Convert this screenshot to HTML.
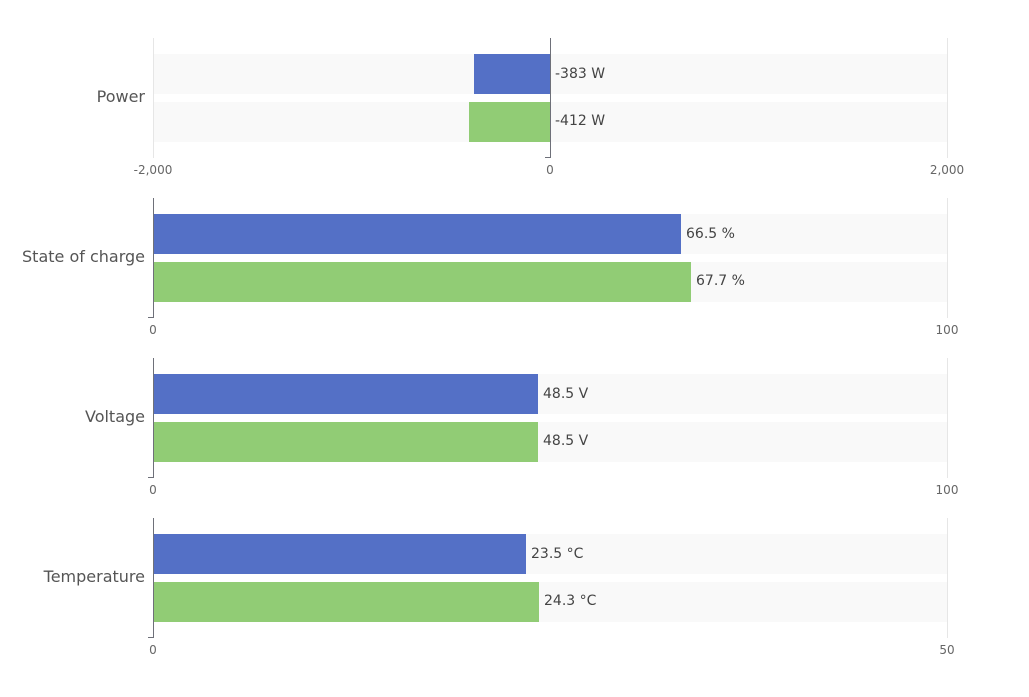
<!DOCTYPE html>
<html><head><style>body{margin:0;background:#fff}svg{display:block;font-family:"DejaVu Sans","Liberation Sans",sans-serif}</style></head><body>
<svg width="1029" height="697" xmlns="http://www.w3.org/2000/svg">
<g font-size="14" fill="#444">
<!-- Panel 1 -->
<rect x="153" y="54" width="794" height="40" fill="#f9f9f9"/>
<rect x="153" y="102" width="794" height="40" fill="#f9f9f9"/>
<line x1="153.5" y1="38" x2="153.5" y2="158" stroke="#e6e6e6"/>
<line x1="947.5" y1="38" x2="947.5" y2="158" stroke="#e6e6e6"/>
<rect x="474" y="54" width="76" height="40" fill="#5470c6"/>
<rect x="469" y="102" width="81" height="40" fill="#91cc75"/>
<path d="M550.5 38V157.5H545" stroke="#6e7079" fill="none"/>
<text x="555" y="78">-383 W</text>
<text x="555" y="125">-412 W</text>
<text x="145" y="102" text-anchor="end" font-size="16" fill="#555">Power</text>
<g font-size="12" fill="#666" text-anchor="middle"><text x="153" y="174">-2,000</text><text x="550" y="174">0</text><text x="947" y="174">2,000</text></g>

<!-- Panel 2 -->
<rect x="153" y="214" width="794" height="40" fill="#f9f9f9"/>
<rect x="153" y="262" width="794" height="40" fill="#f9f9f9"/>
<line x1="947.5" y1="198" x2="947.5" y2="318" stroke="#e6e6e6"/>
<rect x="153" y="214" width="528" height="40" fill="#5470c6"/>
<rect x="153" y="262" width="538" height="40" fill="#91cc75"/>
<path d="M153.5 198V317.5H148" stroke="#6e7079" fill="none"/>
<text x="686" y="238">66.5 %</text>
<text x="696" y="285">67.7 %</text>
<text x="145" y="262" text-anchor="end" font-size="16" fill="#555">State of charge</text>
<g font-size="12" fill="#666" text-anchor="middle"><text x="153" y="334">0</text><text x="947" y="334">100</text></g>

<!-- Panel 3 -->
<rect x="153" y="374" width="794" height="40" fill="#f9f9f9"/>
<rect x="153" y="422" width="794" height="40" fill="#f9f9f9"/>
<line x1="947.5" y1="358" x2="947.5" y2="478" stroke="#e6e6e6"/>
<rect x="153" y="374" width="385" height="40" fill="#5470c6"/>
<rect x="153" y="422" width="385" height="40" fill="#91cc75"/>
<path d="M153.5 358V477.5H148" stroke="#6e7079" fill="none"/>
<text x="543" y="398">48.5 V</text>
<text x="543" y="445">48.5 V</text>
<text x="145" y="422" text-anchor="end" font-size="16" fill="#555">Voltage</text>
<g font-size="12" fill="#666" text-anchor="middle"><text x="153" y="494">0</text><text x="947" y="494">100</text></g>

<!-- Panel 4 -->
<rect x="153" y="534" width="794" height="40" fill="#f9f9f9"/>
<rect x="153" y="582" width="794" height="40" fill="#f9f9f9"/>
<line x1="947.5" y1="518" x2="947.5" y2="638" stroke="#e6e6e6"/>
<rect x="153" y="534" width="373" height="40" fill="#5470c6"/>
<rect x="153" y="582" width="386" height="40" fill="#91cc75"/>
<path d="M153.5 518V637.5H148" stroke="#6e7079" fill="none"/>
<text x="531" y="558">23.5 °C</text>
<text x="544" y="605">24.3 °C</text>
<text x="145" y="582" text-anchor="end" font-size="16" fill="#555">Temperature</text>
<g font-size="12" fill="#666" text-anchor="middle"><text x="153" y="654">0</text><text x="947" y="654">50</text></g>
</g>
</svg>
</body></html>
